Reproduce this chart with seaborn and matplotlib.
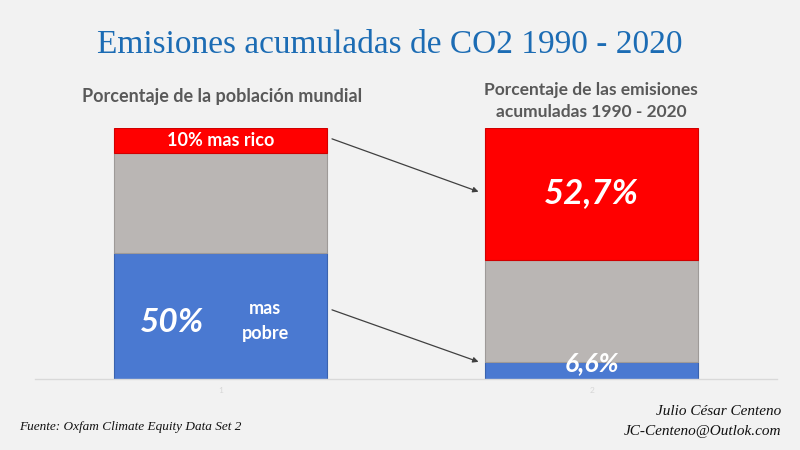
import matplotlib
matplotlib.use("Agg")
import matplotlib.pyplot as plt
import seaborn as sns
import pandas as pd

categories = ["1", "2"]
pobre = [50.0, 6.6]       # blue (bottom)
resto = [40.0, 40.7]      # gray (middle)
rico = [10.0, 52.7]       # red (top)

BG = "#F2F2F2"
BLUE = "#4A79D1"
GRAY = "#BAB6B4"
RED = "#FF0000"

sns.set_theme(style="white")
plt.rcParams["font.family"] = ["Lato", "DejaVu Sans"]

fig = plt.figure(figsize=(8, 4.5), dpi=100, facecolor=BG)
ax = fig.add_axes([0.044, 0.158, 0.9275, 0.558], facecolor=BG)

df = pd.DataFrame({"cat": categories, "pobre": pobre, "resto": resto, "rico": rico})
bottom_resto = [a for a in pobre]
bottom_rico = [a + b for a, b in zip(pobre, resto)]
W = 0.574

sns.barplot(data=df, x="cat", y="pobre", color=BLUE, width=W, ax=ax,
            saturation=1, edgecolor="#3A63AE", linewidth=0.8)
sns.barplot(data=df, x="cat", y="resto", bottom=bottom_resto, color=GRAY, width=W, ax=ax,
            saturation=1, edgecolor="#9E9A98", linewidth=0.8)
sns.barplot(data=df, x="cat", y="rico", bottom=bottom_rico, color=RED, width=W, ax=ax,
            saturation=1, edgecolor="#D00000", linewidth=0.8)

ax.set_xlim(-0.5, 1.5)
ax.set_ylim(0, 100)
ax.set_xlabel("")
ax.set_ylabel("")
ax.set_yticks([])
ax.tick_params(axis="x", length=0, labelsize=6, labelcolor="#D6D6D6", pad=6)
for s in ["top", "left", "right"]:
    ax.spines[s].set_visible(False)
ax.spines["bottom"].set_color("#D9D9D9")
ax.spines["bottom"].set_linewidth(1)

# Labels inside bars
ax.text(0, pobre[0] + resto[0] + rico[0] / 2, "10% mas rico", color="white",
        fontsize=13, fontweight="bold", ha="center", va="center")
ax.text(-0.13, pobre[0] / 2 - 2.5, "50%", color="white", fontsize=24,
        fontweight="bold", style="italic", ha="center", va="center")
ax.text(0.12, pobre[0] / 2 + 3, "mas", color="white", fontsize=13,
        fontweight="bold", ha="center", va="center")
ax.text(0.12, pobre[0] / 2 - 7, "pobre", color="white", fontsize=13,
        fontweight="bold", ha="center", va="center")
ax.text(1, pobre[1] + resto[1] + rico[1] / 2 + 0.5, "52,7%", color="white", fontsize=25,
        fontweight="bold", style="italic", ha="center", va="center")
ax.text(1, pobre[1] - 0.5, "6,6%", color="white", fontsize=19,
        fontweight="bold", style="italic", ha="center", va="center")

# Arrows
arrow_kw = dict(arrowstyle="-|>", color="#404040", lw=0.9, mutation_scale=8,
                shrinkA=0, shrinkB=0)
ax.annotate("", xy=(0.695, pobre[1] + resto[1] + rico[1] / 2 + 0.9),
            xytext=(0.30, pobre[0] + resto[0] + rico[0] / 2 + 0.6), arrowprops=arrow_kw)
ax.annotate("", xy=(0.695, pobre[1] + 0.2),
            xytext=(0.30, pobre[0] / 2 + 2.5), arrowprops=arrow_kw)

# Titles
fig.text(0.487, 0.9, "Emisiones acumuladas de CO2 1990 - 2020", color="#1C6CB4",
         fontsize=24, family=["Liberation Serif", "DejaVu Serif"], ha="center", va="center")
fig.text(0.278, 0.785, "Porcentaje de la población mundial", color="#595959",
         fontsize=13, fontweight="bold", ha="center", va="center")
fig.text(0.739, 0.8, "Porcentaje de las emisiones", color="#595959",
         fontsize=12.5, fontweight="bold", ha="center", va="center")
fig.text(0.739, 0.751, "acumuladas 1990 - 2020", color="#595959",
         fontsize=12.5, fontweight="bold", ha="center", va="center")

# Footer
serif = ["Liberation Serif", "DejaVu Serif"]
fig.text(0.024, 0.051, "Fuente: Oxfam Climate Equity Data Set 2", color="#111111",
         fontsize=9.5, style="italic", family=serif, ha="left", va="center")
fig.text(0.976, 0.085, "Julio César Centeno", color="#111111",
         fontsize=11, style="italic", family=serif, ha="right", va="center")
fig.text(0.976, 0.042, "JC-Centeno@Outlok.com", color="#111111",
         fontsize=11, style="italic", family=serif, ha="right", va="center")

fig.savefig("out.png", dpi=100, facecolor=BG)
